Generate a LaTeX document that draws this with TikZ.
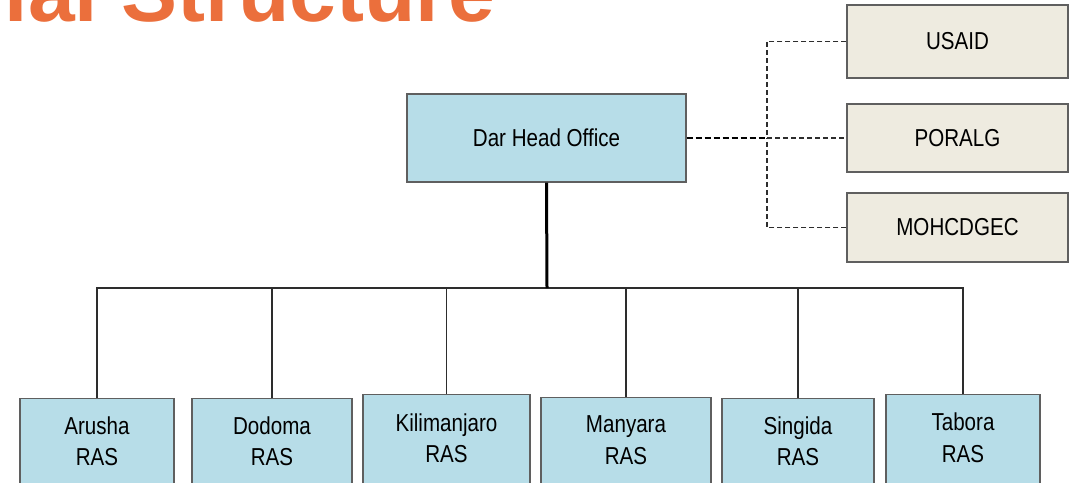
\documentclass[tikz,border=0pt]{standalone}
\usepackage{fontspec}
\setmainfont{Liberation Sans}
\newfontfamily\narrowsf[FakeStretch=0.84]{Liberation Sans}
\usetikzlibrary{calc}

\definecolor{titleorange}{RGB}{235,111,60}
\definecolor{rasblue}{RGB}{183,221,232}
\definecolor{partnerbeige}{RGB}{238,235,224}
\definecolor{boxedge}{RGB}{95,95,95}
\definecolor{wire}{RGB}{45,45,45}

\tikzset{
  office/.style={draw=boxedge, line width=1.3pt, fill=rasblue, rectangle,
    inner sep=0pt, font=\narrowsf\fontsize{24.5}{31.5}\selectfont},
  partner/.style={draw=boxedge, line width=1.3pt, fill=partnerbeige, rectangle,
    inner sep=0pt, minimum width=221pt, font=\narrowsf\fontsize{24.5}{31.5}\selectfont},
  rasbox/.style={draw=boxedge, line width=1.3pt, fill=rasblue, rectangle,
    inner sep=0pt, anchor=north, minimum height=100pt},
  raslabel/.style={align=center, inner sep=0pt,
    font=\narrowsf\fontsize{24.5}{31.5}\selectfont},
  tree/.style={draw=wire, line width=1.3pt},
  trunk/.style={draw=black, line width=3pt},
  liaison/.style={draw=wire, line width=1.1pt, dash pattern=on 5pt off 3pt},
  liaisonmain/.style={draw=black, line width=1.6pt, dash pattern=on 6pt off 3pt},
}

\begin{document}
\begin{tikzpicture}[x=1pt, y=-1pt]
\useasboundingbox (0,0) rectangle (1078,482);

% heading, running off the top edge
\node[anchor=base west, inner sep=0pt, text=titleorange,
      font=\bfseries\fontsize{84}{84}\selectfont] (heading) at (4.6,21) {ial Structure};

% head office
\node[office, minimum width=279pt, minimum height=88pt] (dar) at (546.5,138) {Dar Head Office};

% partner organisations
\node[partner, minimum height=73pt] (usaid) at (957.5,41.5) {USAID};
\node[partner, minimum height=68pt] (poralg) at (957.5,138) {PORALG};
\node[partner, minimum height=69pt] (moh) at (957.5,227.5) {MOHCDGEC};

% regional offices
\node[rasbox, minimum width=154pt] (aru) at (97,398) {};
\node[rasbox, minimum width=160pt] (dod) at (272,398) {};
\node[rasbox, minimum width=167pt] (kil) at (446.5,394) {};
\node[rasbox, minimum width=170pt] (man) at (626,397) {};
\node[rasbox, minimum width=152pt] (sin) at (798,398) {};
\node[rasbox, minimum width=154pt] (tab) at (963,394) {};

\node[raslabel] (aruT) at ($(aru.north)+(0,43)$) {Arusha\\RAS};
\node[raslabel] (dodT) at ($(dod.north)+(0,43)$) {Dodoma\\RAS};
\node[raslabel] (kilT) at ($(kil.north)+(0,44)$) {Kilimanjaro\\RAS};
\node[raslabel] (manT) at ($(man.north)+(0,43)$) {Manyara\\RAS};
\node[raslabel] (sinT) at ($(sin.north)+(0,43)$) {Singida\\RAS};
\node[raslabel] (tabT) at ($(tab.north)+(0,43.5)$) {Tabora\\RAS};

% reporting lines
\coordinate (bus) at (547,288);
\foreach \r in {aru,dod,kil,man,sin,tab}
  \draw[tree] (bus) -| (\r.north);
\draw[trunk] (dar.south) -- (bus);

% liaison lines
\coordinate (hub) at (767,138);
\draw[liaisonmain] (dar.east) -- (hub);
\draw[liaison] (usaid.west) -| (hub);
\draw[liaison] (hub) -- (poralg.west);
\draw[liaison] (moh.west) -| (hub);
\end{tikzpicture}
\end{document}
